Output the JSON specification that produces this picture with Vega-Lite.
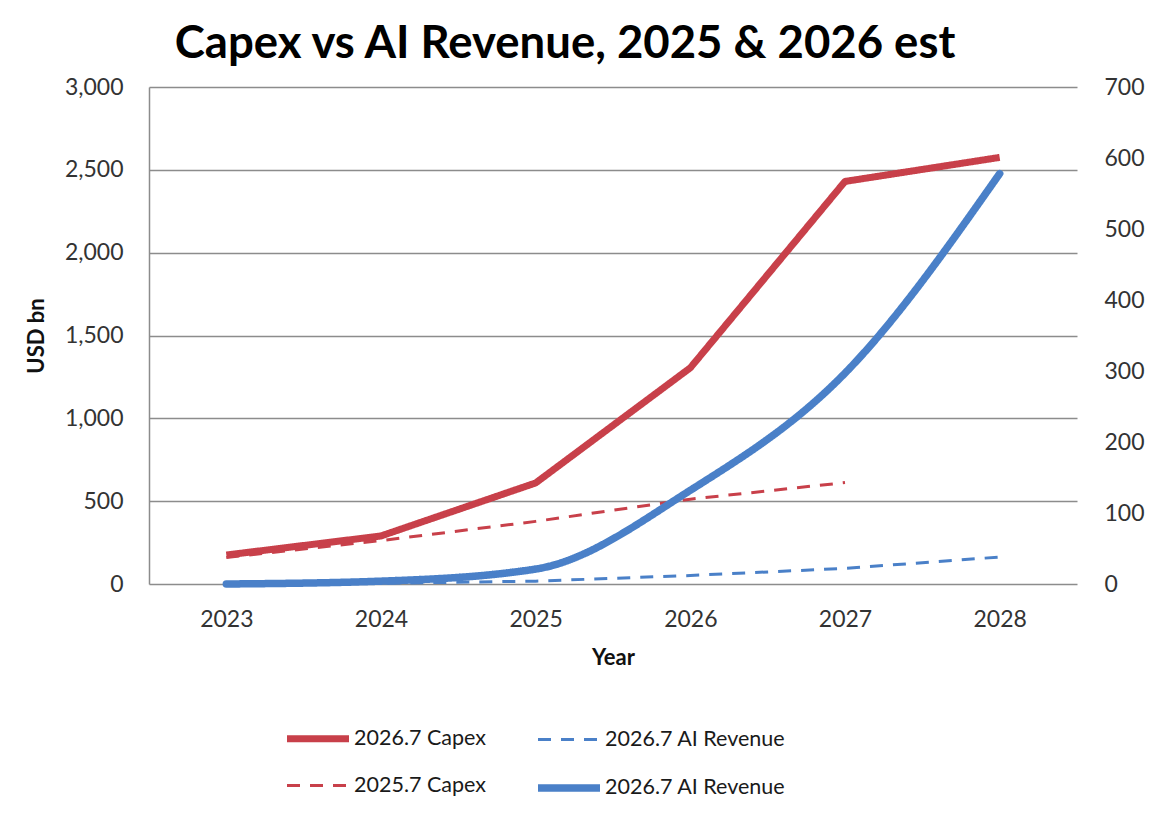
{
  "$schema": "https://vega.github.io/schema/vega-lite/v6.json",
  "width": 928,
  "height": 497,
  "autosize": {"type": "none"},
  "padding": {"left": 149, "top": 87, "right": 77, "bottom": 237},
  "background": "white",
  "title": {
    "text": "Capex vs AI Revenue, 2025 & 2026 est",
    "font": "Lato",
    "fontSize": 45.5,
    "fontWeight": "bold",
    "color": "#000000",
    "anchor": "middle",
    "dx": -48,
    "offset": 9
  },
  "config": {
    "view": {"stroke": null},
    "font": "Lato",
    "axis": {
      "labelFont": "Lato",
      "labelFontSize": 23,
      "labelColor": "#333333",
      "titleFont": "Lato",
      "titleFontSize": 22,
      "titleFontWeight": "bold",
      "titleColor": "#111111",
      "ticks": false,
      "gridColor": "#8c8c8c",
      "gridWidth": 1.5,
      "domainColor": "#8c8c8c",
      "domainWidth": 1.5
    },
    "legend": {
      "labelFont": "Lato",
      "labelFontSize": 21.5,
      "labelColor": "#1a1a1a",
      "labelLimit": 400
    }
  },
  "data": {
    "values": [
      {"year": "2023", "series": "cap26", "side": "L", "value": 175},
      {"year": "2024", "series": "cap26", "side": "L", "value": 290},
      {"year": "2025", "series": "cap26", "side": "L", "value": 610},
      {"year": "2026", "series": "cap26", "side": "L", "value": 1305},
      {"year": "2027", "series": "cap26", "side": "L", "value": 2430},
      {"year": "2028", "series": "cap26", "side": "L", "value": 2575},
      {"year": "2023", "series": "cap25", "side": "L", "value": 160},
      {"year": "2024", "series": "cap25", "side": "L", "value": 262},
      {"year": "2025", "series": "cap25", "side": "L", "value": 378},
      {"year": "2026", "series": "cap25", "side": "L", "value": 512},
      {"year": "2027", "series": "cap25", "side": "L", "value": 612},
      {"year": "2023", "series": "rev25", "side": "R", "value": 0},
      {"year": "2024", "series": "rev25", "side": "R", "value": 1},
      {"year": "2025", "series": "rev25", "side": "R", "value": 4},
      {"year": "2026", "series": "rev25", "side": "R", "value": 12},
      {"year": "2027", "series": "rev25", "side": "R", "value": 22},
      {"year": "2028", "series": "rev25", "side": "R", "value": 38},
      {"year": "2023", "series": "rev26", "side": "R", "value": 0},
      {"year": "2024", "series": "rev26", "side": "R", "value": 4},
      {"year": "2025", "series": "rev26", "side": "R", "value": 21},
      {"year": "2026", "series": "rev26", "side": "R", "value": 132},
      {"year": "2027", "series": "rev26", "side": "R", "value": 297},
      {"year": "2028", "series": "rev26", "side": "R", "value": 578}
    ]
  },
  "encoding": {
    "x": {
      "field": "year",
      "type": "ordinal",
      "scale": {"type": "point", "padding": 0.5},
      "axis": {
        "title": "Year",
        "labelAngle": 0,
        "labelPadding": 24,
        "titlePadding": 16,
        "domain": false,
        "grid": false
      }
    },
    "color": {
      "field": "series",
      "type": "nominal",
      "scale": {
        "domain": ["cap26", "cap25", "rev25", "rev26"],
        "range": ["#C8404A", "#C8404A", "#4A80C8", "#4A80C8"]
      },
      "legend": {
        "title": null,
        "orient": "none",
        "legendX": 134,
        "legendY": 617,
        "columns": 2,
        "columnPadding": 37,
        "rowPadding": -12,
        "symbolType": "stroke",
        "symbolSize": 3844,
        "labelOffset": 1,
        "labelExpr": "datum.value === 'cap26' ? '2026.7 Capex' : datum.value === 'cap25' ? '2025.7 Capex' : '2026.7 AI Revenue'"
      }
    },
    "strokeDash": {
      "field": "series",
      "type": "nominal",
      "scale": {
        "domain": ["cap26", "cap25", "rev25", "rev26"],
        "range": [[1, 0], [13, 10], [13, 10], [1, 0]]
      },
      "legend": null
    },
    "strokeWidth": {
      "field": "series",
      "type": "nominal",
      "scale": {
        "type": "ordinal",
        "domain": ["cap26", "cap25", "rev25", "rev26"],
        "range": [7, 3, 3, 7.5]
      },
      "legend": null
    }
  },
  "layer": [
    {
      "transform": [{"filter": "datum.side === 'L'"}],
      "mark": {"type": "line", "strokeJoin": "round", "strokeCap": "butt"},
      "encoding": {
        "y": {
          "field": "value",
          "type": "quantitative",
          "scale": {"domain": [0, 3000], "nice": false},
          "axis": {
            "title": "USD bn",
            "values": [0, 500, 1000, 1500, 2000, 2500, 3000],
            "format": ",.0f",
            "labelPadding": 26,
            "titlePadding": 16,
            "domain": true,
            "grid": true
          }
        }
      }
    },
    {
      "encoding": {
        "y": {
          "field": "value",
          "type": "quantitative",
          "scale": {"domain": [0, 700], "nice": false},
          "axis": {
            "orient": "right",
            "title": null,
            "values": [0, 100, 200, 300, 400, 500, 600, 700],
            "labelPadding": 27,
            "domain": false,
            "grid": false
          }
        }
      },
      "layer": [
        {
          "transform": [{"filter": "datum.series === 'rev25'"}],
          "mark": {"type": "line", "strokeCap": "butt"}
        },
        {
          "transform": [{"filter": "datum.series === 'rev26'"}],
          "mark": {"type": "line", "interpolate": "monotone", "strokeCap": "round"}
        }
      ]
    }
  ],
  "resolve": {"scale": {"y": "independent"}}
}
